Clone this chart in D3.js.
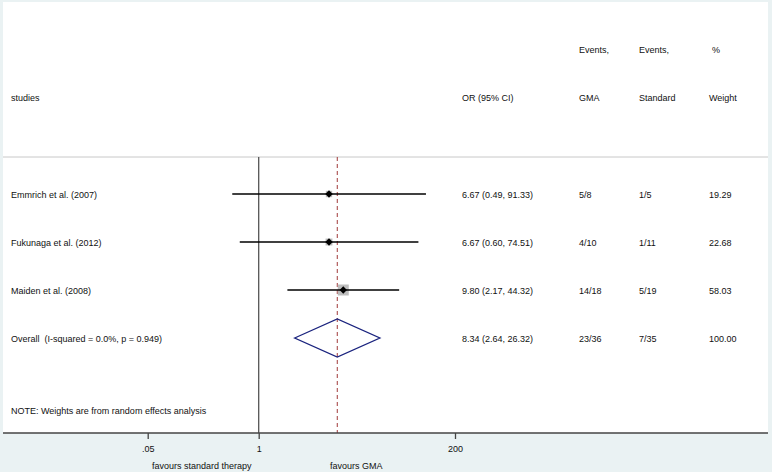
<!DOCTYPE html>
<html>
<head>
<meta charset="utf-8">
<script src="https://cdn.jsdelivr.net/npm/d3@7"></script>
<style>
  body { margin: 0; background: #eaf2f3; }
  svg { display: block; font-family: Arial, 'Liberation Sans', sans-serif; }
  text { font-size: 9px; fill: #111; white-space: pre; }
</style>
</head>
<body>
<svg id="forest"></svg>
<script>
const studies = ['Emmrich et al. (2007)', 'Fukunaga et al. (2012)', 'Maiden et al. (2008)']
const oddsRatio = [6.67, 6.67, 9.80]
const lower = [0.49, 0.60, 2.17]
const upper = [91.33, 74.51, 44.32]
const eventsGMA = ['5/8', '4/10', '14/18']
const eventsStandard = ['1/5', '1/11', '5/19']
const weights = [19.29, 22.68, 58.03]

const overallLabel = 'Overall  (I-squared = 0.0%, p = 0.949)'
const overallOR = 8.34
const overallLower = 2.64
const overallUpper = 26.32
const overallGMA = '23/36'
const overallStandard = '7/35'
const overallWeight = 100.00

const tickValues = [0.05, 1, 200]
const tickLabels = ['.05', '1', '200']

const SVG_WIDTH = 772
const SVG_HEIGHT = 472
const PLOT_LEFT = 3
const PLOT_RIGHT = 768
const PLOT_TOP = 2
const HEADER_LINE = 157
const AXIS_Y = 433

const svg = d3.select('svg')
  .attr('width', SVG_WIDTH)
  .attr('height', SVG_HEIGHT)

const xScale = d3.scaleLog()
  .domain([0.05, 200])
  .range([147.7, 455])

const yScale = d3.scaleLinear()
  .domain([0, 3])
  .range([194, 338])

const boxScale = d3.scaleSqrt()
  .domain([0, d3.max(weights)])
  .range([0, 11])

// white plot region
svg.append('rect')
  .attr('x', PLOT_LEFT)
  .attr('y', PLOT_TOP)
  .attr('width', PLOT_RIGHT - PLOT_LEFT)
  .attr('height', AXIS_Y - PLOT_TOP)
  .attr('fill', '#fff')

svg.append('line')
  .attr('x1', PLOT_LEFT).attr('x2', PLOT_RIGHT)
  .attr('y1', HEADER_LINE).attr('y2', HEADER_LINE)
  .attr('stroke', '#c8c8c8')
  .attr('stroke-width', 1)

// headers
const colX = { or: 462, gma: 579, std: 639, wt: 709 }
const header = svg.append('g').attr('class', 'header')
function addText(g, x, y, txt) {
  g.append('text').attr('x', x).attr('y', y).attr('dy', '0.35em').text(txt)
}
addText(header, 11, 98, 'studies')
addText(header, colX.or, 98, 'OR (95% CI)')
addText(header, colX.gma, 50, 'Events,')
addText(header, colX.gma, 98, 'GMA')
addText(header, colX.std, 50, 'Events,')
addText(header, colX.std, 98, 'Standard')
addText(header, colX.wt + 3, 50, '%')
addText(header, colX.wt, 98, 'Weight')

// reference lines
svg.append('line')
  .attr('x1', xScale(1)).attr('x2', xScale(1))
  .attr('y1', HEADER_LINE).attr('y2', AXIS_Y)
  .attr('stroke', '#555')
  .attr('stroke-width', 1.3)

svg.append('line')
  .attr('x1', xScale(overallOR)).attr('x2', xScale(overallOR))
  .attr('y1', HEADER_LINE).attr('y2', AXIS_Y)
  .attr('stroke', '#a03838')
  .attr('stroke-width', 1)
  .attr('stroke-dasharray', '4,3')

// study rows
const rows = svg.append('g').attr('class', 'rows')
const fmt = d3.format('.2f')

studies.forEach((name, i) => {
  const y = yScale(i)
  const size = boxScale(weights[i])
  rows.append('rect')
    .attr('x', xScale(oddsRatio[i]) - size / 2)
    .attr('y', y - size / 2)
    .attr('width', size)
    .attr('height', size)
    .attr('fill', '#bdbdbd')
  rows.append('line')
    .attr('x1', xScale(lower[i])).attr('x2', xScale(upper[i]))
    .attr('y1', y).attr('y2', y)
    .attr('stroke', '#000')
    .attr('stroke-width', 1.3)
  rows.append('rect')
    .attr('x', -2.6).attr('y', -2.6)
    .attr('width', 5.2).attr('height', 5.2)
    .attr('transform', `translate(${xScale(oddsRatio[i])},${y}) rotate(45)`)
    .attr('fill', '#000')

  addText(rows, 11, y + 1, name)
  addText(rows, colX.or, y + 1, `${fmt(oddsRatio[i])} (${fmt(lower[i])}, ${fmt(upper[i])})`)
  addText(rows, colX.gma, y + 1, eventsGMA[i])
  addText(rows, colX.std, y + 1, eventsStandard[i])
  addText(rows, colX.wt, y + 1, fmt(weights[i]))
})

// overall diamond
const oy = yScale(3)
const half = 19
svg.append('path')
  .attr('d', `M${xScale(overallLower)},${oy} L${xScale(overallOR)},${oy - half} L${xScale(overallUpper)},${oy} L${xScale(overallOR)},${oy + half} Z`)
  .attr('fill', 'none')
  .attr('stroke', '#1a237e')
  .attr('stroke-width', 1.3)

addText(rows, 11, oy + 1, overallLabel)
addText(rows, colX.or, oy + 1, `${fmt(overallOR)} (${fmt(overallLower)}, ${fmt(overallUpper)})`)
addText(rows, colX.gma, oy + 1, overallGMA)
addText(rows, colX.std, oy + 1, overallStandard)
addText(rows, colX.wt, oy + 1, fmt(overallWeight))

addText(svg, 11, 411, 'NOTE: Weights are from random effects analysis')

// x axis
svg.append('line')
  .attr('x1', PLOT_LEFT).attr('x2', PLOT_RIGHT)
  .attr('y1', AXIS_Y).attr('y2', AXIS_Y)
  .attr('stroke', '#444')
  .attr('stroke-width', 1.3)

const xAxis = d3.axisBottom(xScale)
  .tickValues(tickValues)
  .tickFormat((d, i) => tickLabels[i])
  .tickSize(6)
  .tickPadding(7)

const axisG = svg.append('g')
  .attr('transform', `translate(0, ${AXIS_Y})`)
  .call(xAxis)
axisG.select('.domain').remove()
axisG.selectAll('.tick line').attr('stroke', '#444').attr('stroke-width', 1.3)
axisG.selectAll('.tick text').style('font-size', '9px').attr('fill', '#111')

addText(svg, 152, 466, 'favours standard therapy')
addText(svg, 330, 466, 'favours GMA')
</script>
</body>
</html>
